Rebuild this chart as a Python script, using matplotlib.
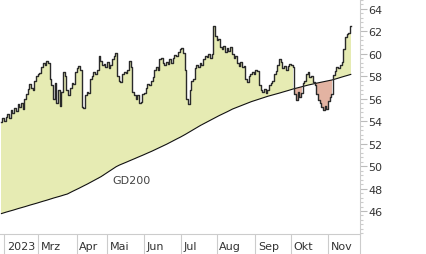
import numpy as np
import pandas as pd
import matplotlib
matplotlib.use("Agg")
import matplotlib.pyplot as plt
from matplotlib.ticker import MultipleLocator

# Handelstage (Xetra) 30.01.2023 - 20.11.2023
dates = pd.bdate_range("2023-01-30", "2023-11-20", freq="C",
                       holidays=["2023-04-07", "2023-04-10", "2023-05-01"])

# Schlusskurse
close = [
    53.9, 54.3, 54.0, 54.4, 54.6, 54.3,
    55.0, 54.7, 55.2, 54.9, 55.5,
    55.3, 55.6, 55.1, 56.0, 56.4, 56.9,
    57.3, 57.0, 56.8, 57.6, 58.0, 58.2,
    58.3, 58.8, 59.2, 59.0, 59.4, 59.2,
    57.8, 57.2, 56.0, 57.4, 55.6, 56.8,
    55.4, 56.6, 58.4, 58.0, 56.8, 56.3,
    57.0, 57.4, 57.3, 58.4, 58.7, 58.9,
    58.6, 55.3, 55.2, 56.3, 56.6, 56.5,
    57.8, 58.0, 58.4, 58.2, 58.6, 59.8,
    59.4, 59.0, 59.1, 58.8, 59.3, 58.7,
    59.0, 59.5, 59.8, 60.1, 58.0, 57.6,
    57.5, 58.2, 58.4, 58.3, 58.6, 59.4,
    58.8, 56.6, 56.3, 56.0, 56.3, 55.6,
    55.7, 56.4, 56.5, 57.0, 57.3, 57.2,
    57.6, 57.9, 58.6, 58.8, 58.6, 59.5,
    59.6, 59.2, 59.0, 59.3, 59.1, 59.5,
    59.2, 59.6, 59.9, 59.8, 60.2, 60.4,
    60.5, 60.1, 58.6, 56.0, 55.5, 56.8,
    57.6, 57.8, 58.7, 59.0, 58.8, 59.2,
    59.0, 59.5, 59.8, 59.7, 60.0, 59.6,
    60.0, 62.5, 61.6, 61.2, 61.3, 60.6,
    60.4, 60.7, 60.2, 60.5, 60.3, 60.6,
    60.0, 59.6, 59.8, 59.2, 58.9, 59.3,
    58.8, 58.9, 57.8, 57.5, 58.0, 58.2,
    58.4, 58.2, 58.6, 58.5, 57.2, 56.8,
    56.6, 56.9, 56.5, 56.8, 57.2, 57.4,
    57.6, 58.2, 58.5, 59.0, 59.5, 59.3,
    58.7, 58.9, 58.6, 58.9, 59.1, 59.0,
    58.8, 56.4, 55.9, 56.6, 56.2, 56.5,
    57.4, 57.6, 58.2, 58.4, 57.9, 58.0,
    57.5, 57.2, 56.4, 55.9, 55.6, 55.3,
    55.0, 55.4, 55.1, 55.8, 56.2, 56.4,
    58.1, 58.5, 58.8, 58.7, 59.0, 59.3,
    60.4, 61.5, 61.8, 61.9, 62.5,
]

# 200-Tage-Linie
gd200 = [
    45.77, 45.82, 45.86, 45.91, 45.95, 45.99, 46.04, 46.08, 46.13, 46.17,
    46.22, 46.26, 46.30, 46.35, 46.39, 46.44, 46.48, 46.53, 46.57,
    46.61, 46.66, 46.70, 46.75, 46.79, 46.84, 46.88, 46.93, 46.97, 47.02,
    47.07, 47.11, 47.16, 47.20, 47.25, 47.29, 47.33, 47.38, 47.42, 47.47,
    47.51, 47.59, 47.66, 47.74, 47.81, 47.88, 47.96, 48.03, 48.11, 48.18,
    48.26, 48.33, 48.41, 48.49, 48.57, 48.65, 48.73, 48.81, 48.89, 48.97,
    49.06, 49.16, 49.26, 49.36, 49.46, 49.56, 49.65, 49.75, 49.85, 49.95,
    50.03, 50.10, 50.16, 50.22, 50.29, 50.35, 50.42, 50.48, 50.54,
    50.61, 50.67, 50.74, 50.80, 50.86, 50.93, 50.99, 51.06, 51.12, 51.19, 51.25,
    51.32, 51.39, 51.46, 51.54, 51.61, 51.68, 51.75, 51.82, 51.89, 51.96,
    52.04, 52.12, 52.20, 52.27, 52.35, 52.43, 52.50, 52.58, 52.66,
    52.74, 52.83, 52.92, 53.01, 53.10, 53.19, 53.28, 53.37, 53.46, 53.55,
    53.63, 53.71, 53.79, 53.87, 53.95, 54.03, 54.11, 54.19, 54.27, 54.34,
    54.42, 54.50, 54.57, 54.64, 54.72, 54.79, 54.86, 54.94, 55.01, 55.09,
    55.15, 55.21, 55.27, 55.33, 55.39, 55.45, 55.51, 55.57, 55.63, 55.68,
    55.74, 55.79, 55.84, 55.89, 55.94, 55.99, 56.04, 56.09, 56.14, 56.19,
    56.23, 56.27, 56.31, 56.36, 56.40, 56.44, 56.48, 56.52, 56.57,
    56.61, 56.65, 56.70, 56.74, 56.79, 56.83, 56.88, 56.92, 56.97, 57.01,
    57.05, 57.09, 57.12, 57.16, 57.19, 57.23, 57.26, 57.30, 57.33, 57.37, 57.40,
    57.43, 57.46, 57.50, 57.53, 57.56, 57.59, 57.62, 57.65, 57.68,
    57.72, 57.77, 57.81, 57.86, 57.90, 57.95, 57.99, 58.04, 58.08, 58.13, 58.17,
]

month_labels = ["2023", "Mrz", "Apr", "Mai", "Jun", "Jul", "Aug", "Sep", "Okt", "Nov"]

x = np.arange(len(dates))
c = np.array(close)
g = np.array(gd200)

fig = plt.figure(figsize=(4.26, 2.55), dpi=100)
ax = fig.add_axes([0, 1 - 235 / 255, 360 / 426, 235 / 255])

ax.fill_between(x, c, g, where=c >= g, step="mid", color="#e6ebb3", lw=0)
ax.fill_between(x, c, g, where=c <= g, step="mid", color="#e3b3a2", lw=0)
ax.plot(x, g, color="#111111", lw=0.8)
ax.plot(x, c, color="#2a2a2a", lw=1.0, drawstyle="steps-mid")

ax.text(76.8, 48.76, "GD200", fontsize=8, color="#444444", ha="center", va="center")

# Monatsgrenzen
m = dates.to_period("M")
starts = [i for i in range(1, len(dates)) if m[i] != m[i - 1]]
bounds = [s - 0.5 for s in starts]
x_right = bounds[0] + 356 / 1.6875
ax.set_xlim(bounds[0] - 4 / 1.6875, x_right)
ax.set_ylim(43.95, 64.89)

ax.set_xticks(bounds + [x_right])
ax.set_xticklabels([])
ax.tick_params(axis="x", length=14.5, width=0.8, color="#cccccc", direction="out")
for b, lab in zip(bounds, month_labels):
    ax.annotate(lab, xy=(b, 0), xycoords=("data", "axes fraction"),
                xytext=(2, -9), textcoords="offset points",
                fontsize=8, color="#333333", ha="left", va="center")

ax.yaxis.tick_right()
ax.yaxis.set_major_locator(MultipleLocator(2))
ax.yaxis.set_minor_locator(MultipleLocator(0.4))
ax.set_yticks(np.arange(46, 65, 2))
ax.tick_params(axis="y", which="major", length=5, width=0.8, color="#bbbbbb",
               labelsize=8, labelcolor="#333333", pad=1)
ax.tick_params(axis="y", which="minor", length=2.5, width=0.8, color="#cccccc")

for s in ["top", "left"]:
    ax.spines[s].set_visible(False)
ax.spines["right"].set_color("#cccccc")
ax.spines["bottom"].set_color("#cccccc")

fig.savefig("out.png", dpi=100)
